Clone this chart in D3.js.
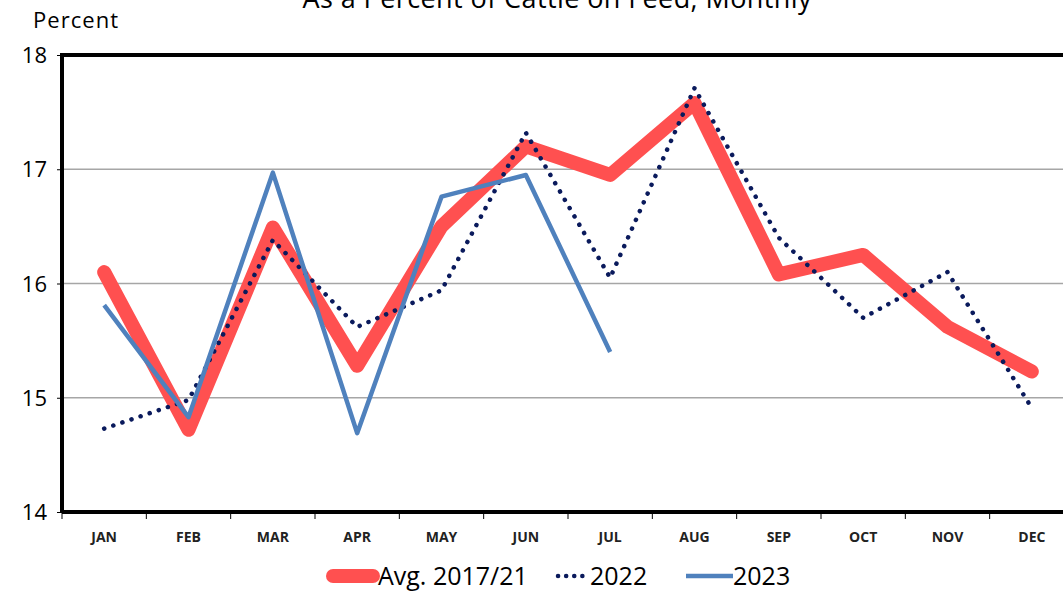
<!DOCTYPE html>
<html>
<head>
<meta charset="utf-8">
<script src="https://cdnjs.cloudflare.com/ajax/libs/d3/7.8.5/d3.min.js"></script>
<style>
  body { margin: 0; background: #fff; overflow: hidden; }
  text { font-family: "Open Sans", sans-serif; }
</style>
</head>
<body>
<svg id="chart" width="1063" height="591"></svg>
<script>
var months = ["JAN", "FEB", "MAR", "APR", "MAY", "JUN", "JUL", "AUG", "SEP", "OCT", "NOV", "DEC"];
var avg1721 = [16.1, 14.72, 16.49, 15.28, 16.5, 17.2, 16.95, 17.58, 16.08, 16.25, 15.62, 15.23];
var y2022 = [14.73, 14.98, 16.38, 15.62, 15.94, 17.32, 16.05, 17.71, 16.4, 15.7, 16.1, 14.91];
var y2023 = [15.81, 14.83, 16.97, 14.69, 16.76, 16.95, 15.4];
var yTicks = [14, 15, 16, 17, 18];

var svg = d3.select("#chart"),
    margin = {top: 55, left: 62},
    width = 1012,
    height = 457;

var x = d3.scaleBand().domain(months).range([0, width]);
var y = d3.scaleLinear().domain([14, 18]).range([height, 0]);

var g = svg.append("g")
    .attr("transform", "translate(" + margin.left + "," + margin.top + ")");

// title (cut off at the top, as in the source)
svg.append("text")
    .attr("x", 557).attr("y", 8)
    .attr("text-anchor", "middle")
    .attr("font-size", 27)
    .attr("textLength", 509)
    .text("As a Percent of Cattle on Feed, Monthly");

svg.append("text")
    .attr("x", 33).attr("y", 28)
    .attr("font-size", 22)
    .attr("textLength", 85)
    .text("Percent");

// gridlines
g.selectAll(".grid")
    .data([15, 16, 17])
    .enter().append("line")
    .attr("x1", 0).attr("x2", width)
    .attr("y1", function(d) { return y(d); })
    .attr("y2", function(d) { return y(d); })
    .attr("stroke", "#a6a6a6")
    .attr("stroke-width", 1.5);

// y axis
var yAxis = g.append("g")
    .call(d3.axisLeft(y).tickValues(yTicks).tickSize(5).tickPadding(10).tickFormat(d3.format("d")));
yAxis.select(".domain").remove();
yAxis.selectAll("text").attr("font-size", 22).attr("fill", "#000").attr("dy", "0.35em");
yAxis.selectAll(".tick line").attr("stroke", "#000");

// x axis, tick marks at category boundaries
var xAxis = g.append("g")
    .attr("transform", "translate(0," + height + ")")
    .call(d3.axisBottom(x).tickSize(0).tickPadding(20));
xAxis.select(".domain").remove();
xAxis.selectAll("text").attr("font-size", 14).attr("font-weight", "bold").attr("fill", "#222");

g.selectAll(".xtick")
    .data(months)
    .enter().append("line")
    .attr("x1", function(d) { return x(d); })
    .attr("x2", function(d) { return x(d); })
    .attr("y1", height).attr("y2", height + 7)
    .attr("stroke", "#000");

// frame
g.append("path")
    .attr("d", "M0," + height + "V0H" + (width + 10))
    .attr("fill", "none").attr("stroke", "#000").attr("stroke-width", 4);
g.append("line")
    .attr("x1", 0).attr("x2", width + 10)
    .attr("y1", height).attr("y2", height)
    .attr("stroke", "#000").attr("stroke-width", 4);

var line = d3.line()
    .x(function(d, i) { return x(months[i]) + x.bandwidth() / 2; })
    .y(function(d) { return y(d); });

g.append("path")
    .datum(avg1721)
    .attr("d", line)
    .attr("fill", "none")
    .attr("stroke", "#ff5050")
    .attr("stroke-width", 14)
    .attr("stroke-linejoin", "round")
    .attr("stroke-linecap", "round");

g.append("path")
    .datum(y2022)
    .attr("d", line)
    .attr("fill", "none")
    .attr("stroke", "#0a1a5c")
    .attr("stroke-width", 4.5)
    .attr("stroke-dasharray", "0.1 9.5")
    .attr("stroke-linecap", "round");

g.append("path")
    .datum(y2023)
    .attr("d", line)
    .attr("fill", "none")
    .attr("stroke", "#4f81bd")
    .attr("stroke-width", 4.5)
    .attr("stroke-linejoin", "round");

// legend
var legend = svg.append("g").attr("transform", "translate(0,576)");
legend.append("line")
    .attr("x1", 333).attr("x2", 373).attr("y1", 0).attr("y2", 0)
    .attr("stroke", "#ff5050").attr("stroke-width", 14).attr("stroke-linecap", "round");
legend.append("text").attr("x", 378).attr("y", 9).attr("font-size", 25)
    .text("Avg. 2017/21");
legend.append("line")
    .attr("x1", 558).attr("x2", 590).attr("y1", 0).attr("y2", 0)
    .attr("stroke", "#0a1a5c").attr("stroke-width", 4.5)
    .attr("stroke-dasharray", "0.1 8").attr("stroke-linecap", "round");
legend.append("text").attr("x", 590).attr("y", 9).attr("font-size", 25)
    .text("2022");
legend.append("line")
    .attr("x1", 686).attr("x2", 733).attr("y1", 0).attr("y2", 0)
    .attr("stroke", "#4f81bd").attr("stroke-width", 4.5);
legend.append("text").attr("x", 733).attr("y", 9).attr("font-size", 25)
    .text("2023");
</script>
</body>
</html>
